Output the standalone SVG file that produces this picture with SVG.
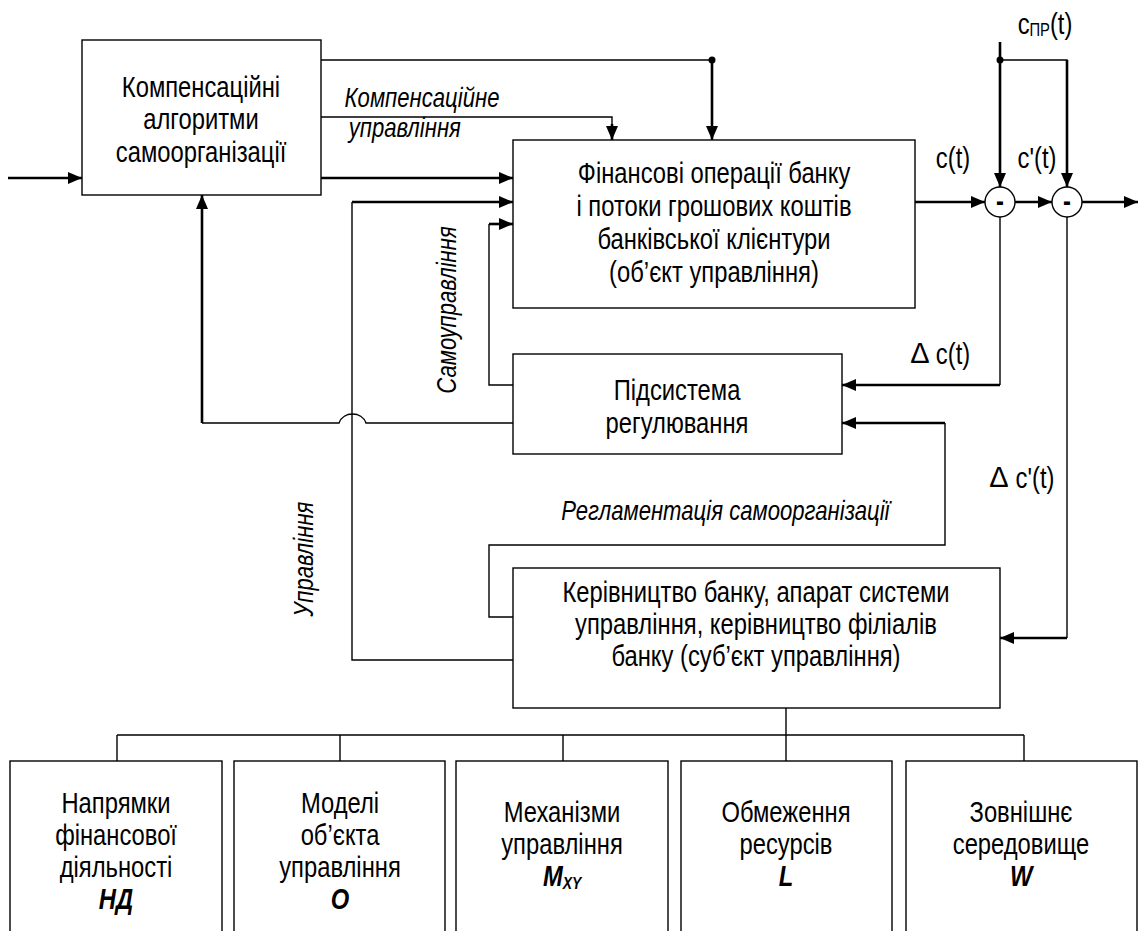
<svg xmlns="http://www.w3.org/2000/svg" width="1139" height="931" viewBox="0 0 1139 931">
<style>
.box{fill:#fff;stroke:#000;stroke-width:1.4}
.t,.i{font-family:"Liberation Sans Narrow","Liberation Sans",Arial,sans-serif;fill:#000;text-anchor:middle;transform-box:fill-box;transform-origin:center;transform:scaleX(0.82)}
.t{font-size:29px}
.i{font-size:27px;font-style:italic}
.b{font-weight:bold;font-style:italic}
.d{font-family:"Liberation Sans",Arial,sans-serif;font-size:29px;fill:#000;text-anchor:middle}
.thin{fill:none;stroke:#000;stroke-width:1.4}
.thick{fill:none;stroke:#000;stroke-width:2.6}
.arr{marker-end:url(#ah)}
</style>
<defs>
<marker id="ah" markerUnits="userSpaceOnUse" viewBox="0 0 14 12" refX="14" refY="6" markerWidth="14" markerHeight="12" orient="auto">
<path d="M0,0 L14,6 L0,12 z" fill="#000"/>
</marker>
</defs>
<rect width="1139" height="931" fill="#fff"/>

<g id="connectors">
<path class="thick arr" d="M8,178 H82"/>
<path class="thick arr" d="M321,178 H513"/>
<path class="thin" d="M321,60 H712"/>
<path class="thick arr" d="M712,60 V140"/>
<circle cx="712" cy="60" r="3.5" fill="#000"/>
<path class="thin" d="M321,117 H612 V126"/>
<path class="thick arr" d="M612,124 V140"/>
<path class="thin" d="M513,660 H352 V202"/>
<path class="thick arr" d="M352,202 H513"/>
<path class="thin" d="M513,385 H489 V224"/>
<path class="thick arr" d="M489,224 H513"/>
<path class="thin" d="M513,423 H366 C362,411 343,411 339,423 H202"/>
<path class="thick arr" d="M202,423 V195"/>
<path class="thick arr" d="M915,202 H985"/>
<path class="thick arr" d="M1015,202 H1052"/>
<path class="thick arr" d="M1082,202 H1138"/>
<path class="thick arr" d="M1000,42 V187"/>
<circle cx="1000" cy="60" r="3.5" fill="#000"/>
<path class="thin" d="M1000,60 H1067 V64"/>
<path class="thick arr" d="M1067,60 V187"/>
<path class="thin" d="M1000,217 V385"/>
<path class="thick arr" d="M1000,385 H842"/>
<path class="thin" d="M1067,217 V638"/>
<path class="thick arr" d="M1067,638 H1000"/>
<path class="thin" d="M513,617 H489 V545 H945 V423"/>
<path class="thick arr" d="M945,423 H842"/>
<path class="thin" d="M786,708 V735 M117,735 H1024 M117,735 V761 M340,735 V761 M563,735 V761 M786,735 V761 M1024,735 V761"/>
</g>

<g id="labels">
<text class="i" x="422" y="107">Компенсаційне</text>
<text class="i" x="405" y="137">управління</text>
<text class="i" x="725" y="520">Регламентація самоорганізації</text>
<g transform="translate(456,310) rotate(-90)"><text class="i" x="0" y="0">Самоуправління</text></g>
<g transform="translate(313,559) rotate(-90)"><text class="i" x="0" y="0">Управління</text></g>
<text class="t" x="953" y="168">c(t)</text>
<text class="t" x="1037" y="168">c'(t)</text>
<text class="t" x="1045" y="34">c<tspan font-size="18" dy="2">ПР</tspan><tspan dy="-2">(t)</tspan></text>
<text class="d" x="920" y="363">Δ</text>
<text class="t" x="953" y="364">c(t)</text>
<text class="d" x="999" y="487">Δ</text>
<text class="t" x="1035" y="488">c'(t)</text>
</g>

<g id="n1">
<rect class="box" x="82" y="40" width="239" height="155"/>
<text class="t" x="201" y="97">Компенсаційні</text>
<text class="t" x="201" y="129">алгоритми</text>
<text class="t" x="201" y="162">самоорганізації</text>
</g>
<g id="n2">
<rect class="box" x="513" y="140" width="402" height="168"/>
<text class="t" x="714" y="183">Фінансові операції банку</text>
<text class="t" x="714" y="216">і потоки грошових коштів</text>
<text class="t" x="714" y="249">банківської клієнтури</text>
<text class="t" x="714" y="282">(об’єкт управління)</text>
</g>
<g id="n3">
<rect class="box" x="513" y="354" width="329" height="100"/>
<text class="t" x="677" y="400">Підсистема</text>
<text class="t" x="677" y="433">регулювання</text>
</g>
<g id="n4">
<rect class="box" x="513" y="568" width="487" height="140"/>
<text class="t" x="756" y="602">Керівництво банку, апарат системи</text>
<text class="t" x="756" y="634">управління, керівництво філіалів</text>
<text class="t" x="756" y="666">банку (суб’єкт управління)</text>
</g>
<g id="circ1">
<circle cx="1000" cy="202" r="15" fill="#fff" stroke="#000" stroke-width="1.4"/>
<text class="t" x="1000" y="211" font-weight="bold" font-size="26">-</text>
</g>
<g id="circ2">
<circle cx="1067" cy="202" r="15" fill="#fff" stroke="#000" stroke-width="1.4"/>
<text class="t" x="1067" y="211" font-weight="bold" font-size="26">-</text>
</g>
<g id="b1">
<rect class="box" x="10" y="761" width="212" height="190"/>
<text class="t" x="116" y="813">Напрямки</text>
<text class="t" x="116" y="845">фінансової</text>
<text class="t" x="116" y="877">діяльності</text>
<text class="t b" x="116" y="909">НД</text>
</g>
<g id="b2">
<rect class="box" x="234" y="761" width="211" height="190"/>
<text class="t" x="340" y="813">Моделі</text>
<text class="t" x="340" y="845">об’єкта</text>
<text class="t" x="340" y="877">управління</text>
<text class="t b" x="340" y="909">О</text>
</g>
<g id="b3">
<rect class="box" x="456" y="761" width="212" height="190"/>
<text class="t" x="562" y="822">Механізми</text>
<text class="t" x="562" y="854">управління</text>
<text class="t b" x="562" y="886">M<tspan font-size="17" dy="3">XY</tspan></text>
</g>
<g id="b4">
<rect class="box" x="681" y="761" width="211" height="190"/>
<text class="t" x="786" y="822">Обмеження</text>
<text class="t" x="786" y="854">ресурсів</text>
<text class="t b" x="786" y="886">L</text>
</g>
<g id="b5">
<rect class="box" x="906" y="761" width="231" height="190"/>
<text class="t" x="1021" y="822">Зовнішнє</text>
<text class="t" x="1021" y="854">середовище</text>
<text class="t b" x="1021" y="886">W</text>
</g>
</svg>
